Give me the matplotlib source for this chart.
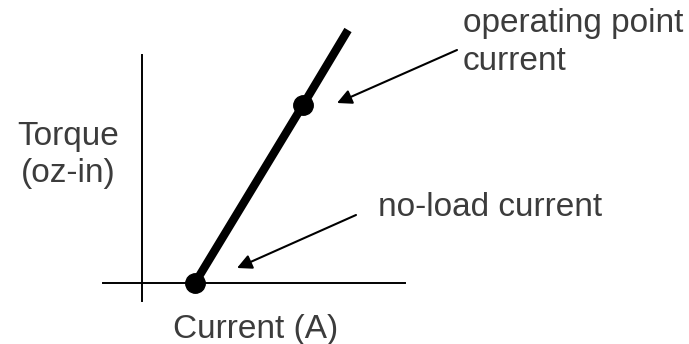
import matplotlib.pyplot as plt

# torque vs current line (arbitrary units, origin at the axis crossing)
current = [53, 161, 206]
torque = [0, 178, 253]
# marked points: no-load current and operating point
dot_current = [53, 161]
dot_torque = [0, 178]

# axis lines
x_axis_span = [-39, 263]
y_axis_span = [-18, 228]

# annotations: text, arrow tip, arrow tail, text position
notes = ["operating point\ncurrent", "no-load current"]
note_tips = [(195, 180), (95, 15)]
note_tails = [(315, 233), (214, 68)]
note_text_pos = [(321, 275), (236, 91)]

text_color = '#3c3c3c'
plt.rcParams['font.family'] = ['Liberation Sans', 'DejaVu Sans']

fig = plt.figure(figsize=(6.89, 3.44), dpi=100)
ax = fig.add_axes([0, 0, 1, 1])
ax.set_xlim(-142, 547)
ax.set_ylim(-61, 283)
ax.axis('off')

## Axes drawn by hand, like the sketch
ax.plot(x_axis_span, [0, 0], color='black', linewidth=1.4)
ax.plot([0, 0], y_axis_span, color='black', linewidth=1.4)

## The torque line and the two points
ax.plot(current, torque, color='black', linewidth=6, solid_capstyle='butt')
ax.plot(dot_current, dot_torque, 'o', color='black', markersize=14)

## Arrows with labels
for txt, tip, tail, pos in zip(notes, note_tips, note_tails, note_text_pos):
    ax.annotate('', xy=tip, xytext=tail,
                arrowprops=dict(arrowstyle='-|>', color='black', lw=1.5,
                                mutation_scale=22, shrinkA=0, shrinkB=0))
    ax.text(pos[0], pos[1], txt, fontsize=24, color=text_color,
            ha='left', va='top', linespacing=1.3)

## Axis titles
ax.text(-74, 162, 'Torque\n(oz-in)', fontsize=24, color=text_color,
        ha='center', va='top', linespacing=1.25)
ax.text(114, -31, 'Current (A)', fontsize=24, color=text_color,
        ha='center', va='top')

fig.savefig('out.png', dpi=100)
